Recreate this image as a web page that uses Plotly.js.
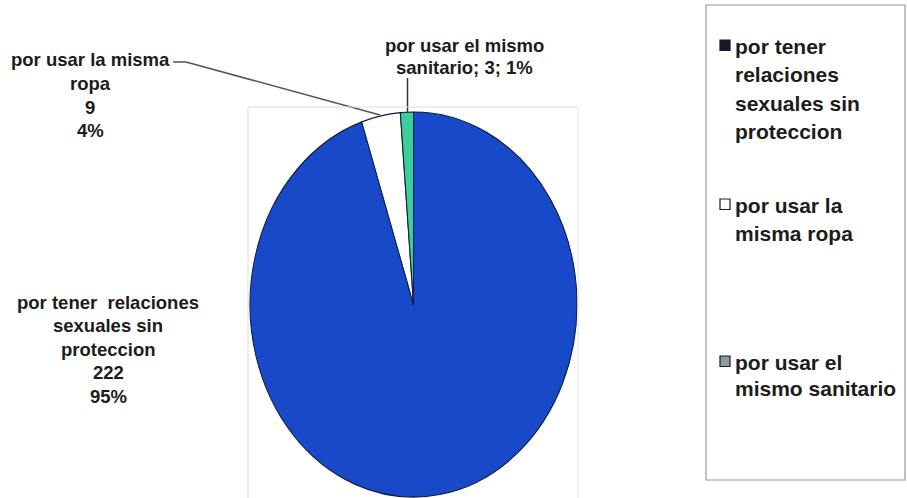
<!DOCTYPE html>
<html>
<head>
<meta charset="utf-8">
<script src="https://cdn.plot.ly/plotly-3.0.1.min.js"></script>
<style>
  html, body { margin: 0; padding: 0; background: #ffffff; }
  #chart { width: 907px; height: 498px; }
</style>
</head>
<body>
<div id="chart"></div>
<script>
// ---- data ----
const categories = [
  "por tener relaciones sexuales sin proteccion",
  "por usar la misma ropa",
  "por usar el mismo sanitario"
];
const counts = [222, 9, 3];
const percentLabels = ["95%", "4%", "1%"];
const sliceColors = ["#1849c8", "#ffffff", "#3ccf9a"];
const legendSwatchColors = ["#14162a", "#ffffff", "#8e9e9c"];
const legendLines = [
  ["por tener", "relaciones", "sexuales sin", "proteccion"],
  ["por usar la", "misma ropa"],
  ["por usar el", "mismo sanitario"]
];

// ---- helpers (pixel -> paper) ----
const W = 907, H = 498;
const px = x => x / W;
const py = y => 1 - y / H;

const FONT = "Liberation Sans, Arial, sans-serif";
const TXT = "#1c1c1c";

const annotations = [];
const shapes = [];

function textBlock(lines, cx, y0, step, size, align) {
  lines.forEach((t, i) => {
    annotations.push({
      xref: "paper", yref: "paper",
      x: px(cx), y: py(y0 + i * step),
      xanchor: align || "center", yanchor: "middle",
      text: "<b>" + t + "</b>", showarrow: false,
      font: { family: FONT, size: size, color: TXT }
    });
  });
}

// data labels
textBlock(["por tener  relaciones", "sexuales sin", "proteccion",
           String(counts[0]), percentLabels[0]], 108, 302, 23.5, 18.5);
textBlock(["por usar la misma", "ropa", String(counts[1]), percentLabels[1]],
          90, 60, 23.5, 18.5);
textBlock(["por usar el mismo",
           "sanitario; " + counts[2] + "; " + percentLabels[2]], 464, 45, 22, 18.5);

// leader lines
function line(x0, y0, x1, y1, color, w) {
  shapes.push({ type: "line", xref: "paper", yref: "paper",
    x0: px(x0), y0: py(y0), x1: px(x1), y1: py(y1),
    line: { color: color, width: w } });
}
line(173, 62, 186, 62, "#555555", 1.5);
line(186, 62, 380, 115, "#555555", 1.5);
line(407.5, 78, 407.5, 113, "#333333", 1.5);

// faint plot-area box
line(248, 107, 578, 107, "#dcdcdc", 1);
line(248, 107, 248, 498, "#dcdcdc", 1);
line(578, 107, 578, 498, "#e4e4e4", 1);

// legend box
shapes.push({ type: "rect", xref: "paper", yref: "paper",
  x0: px(706), y0: py(5), x1: px(905), y1: py(480),
  line: { color: "#9a9a9a", width: 1.2 }, fillcolor: "rgba(0,0,0,0)" });

// legend entries
const legendTop = [46, 205, 362];
const legendStep = [28.5, 28, 26.5];
legendLines.forEach((lines, k) => {
  const y = legendTop[k];
  shapes.push({ type: "rect", xref: "paper", yref: "paper",
    x0: px(720), y0: py(y - 6), x1: px(730), y1: py(y + 4.5),
    line: { color: "#1a1a2a", width: 1.2 }, fillcolor: legendSwatchColors[k] });
  textBlock(lines, 733, y, legendStep[k], 21, "left");
});

const trace = {
  type: "pie",
  labels: categories,
  values: counts,
  sort: false,
  direction: "clockwise",
  rotation: 0,
  textinfo: "none",
  hoverinfo: "label+value+percent",
  marker: { colors: sliceColors, line: { color: "#0d1b3e", width: 1.2 } },
  domain: { x: [px(221), px(606)], y: [py(497), py(112)] },
  showlegend: false
};

const layout = {
  width: W, height: H,
  margin: { l: 0, r: 0, t: 0, b: 0 },
  paper_bgcolor: "#ffffff",
  plot_bgcolor: "#ffffff",
  showlegend: false,
  annotations: annotations,
  shapes: shapes
};

Plotly.newPlot("chart", [trace], layout, { displayModeBar: false, staticPlot: true })
  .then(() => {
    // squeeze the pie horizontally into an ellipse like the photographed original
    const cx = 413.5, sx = 163.5 / 192.5;
    document.querySelectorAll(".pielayer").forEach(g => {
      g.setAttribute("transform",
        "translate(" + cx + ",0) scale(" + sx + ",1) translate(" + (-cx) + ",0)");
    });
  });
</script>
</body>
</html>
